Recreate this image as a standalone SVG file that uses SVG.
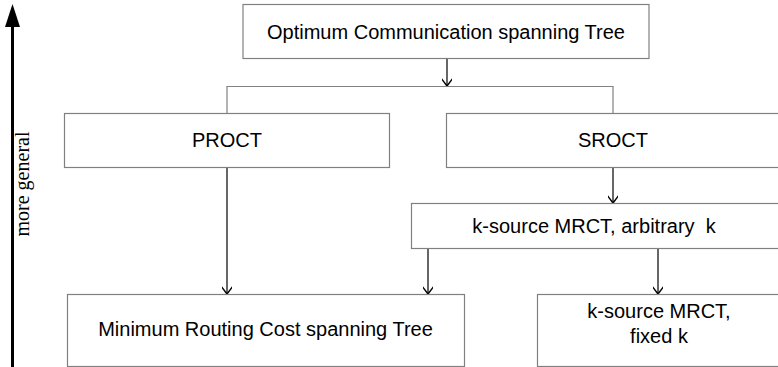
<svg xmlns="http://www.w3.org/2000/svg" width="778" height="367" viewBox="0 0 778 367">
<defs>
<style>
.box{fill:#fff;stroke:#808080;stroke-width:1.2}
.lbl{font-family:"Liberation Sans",Arial,sans-serif;font-size:20px;fill:#000;text-anchor:middle}
.bus{fill:none;stroke:#808080;stroke-width:1.2}
.con{fill:none;stroke:#000;stroke-width:1.2}
</style>
<marker id="v" markerWidth="14" markerHeight="10" refX="12" refY="5" orient="auto" markerUnits="userSpaceOnUse">
<path d="M4,-1 L12,5 L4,11" fill="none" stroke="#000" stroke-width="1.4"/>
</marker>
</defs>
<rect width="778" height="367" fill="#fff"/>
<g id="axis">
<line x1="12.5" y1="25" x2="12.5" y2="367" stroke="#000" stroke-width="3"/>
<polygon points="12.5,4 5,27 20,27" fill="#000"/>
<text transform="translate(29,184) rotate(-90)" font-family="'Liberation Serif','Times New Roman',serif" font-size="20" text-anchor="middle">more general</text>
</g>
<g id="connectors">
<line class="con" x1="447" y1="58.5" x2="447" y2="86" marker-end="url(#v)"/>
<polyline class="bus" points="227,113 227,86.5 613,86.5 613,113"/>
<line class="con" x1="613" y1="167" x2="613" y2="203" marker-end="url(#v)"/>
<line class="con" x1="227" y1="167" x2="227" y2="294" marker-end="url(#v)"/>
<line class="con" x1="428" y1="248" x2="428" y2="294" marker-end="url(#v)"/>
<line class="con" x1="658" y1="248" x2="658" y2="294" marker-end="url(#v)"/>
</g>
<g id="ocst">
<rect class="box" x="243" y="4.5" width="406" height="54"/>
<text class="lbl" x="446" y="38.5">Optimum Communication spanning Tree</text>
</g>
<g id="proct">
<rect class="box" x="64.5" y="113.5" width="325" height="54"/>
<text class="lbl" x="227" y="147">PROCT</text>
</g>
<g id="sroct">
<rect class="box" x="446.5" y="113.5" width="334" height="54"/>
<text class="lbl" x="613" y="147">SROCT</text>
</g>
<g id="ksource-arb">
<rect class="box" x="411.5" y="203.5" width="369" height="45"/>
<text class="lbl" x="594" y="232.5" xml:space="preserve">k-source MRCT, arbitrary  k</text>
</g>
<g id="mrct">
<rect class="box" x="67.5" y="294.5" width="397" height="72"/>
<text class="lbl" x="265.5" y="336">Minimum Routing Cost spanning Tree</text>
</g>
<g id="ksource-fixed">
<rect class="box" x="537.5" y="294.5" width="243" height="72"/>
<text class="lbl" x="659" y="318">k-source MRCT,</text>
<text class="lbl" x="659" y="343">fixed k</text>
</g>
</svg>
